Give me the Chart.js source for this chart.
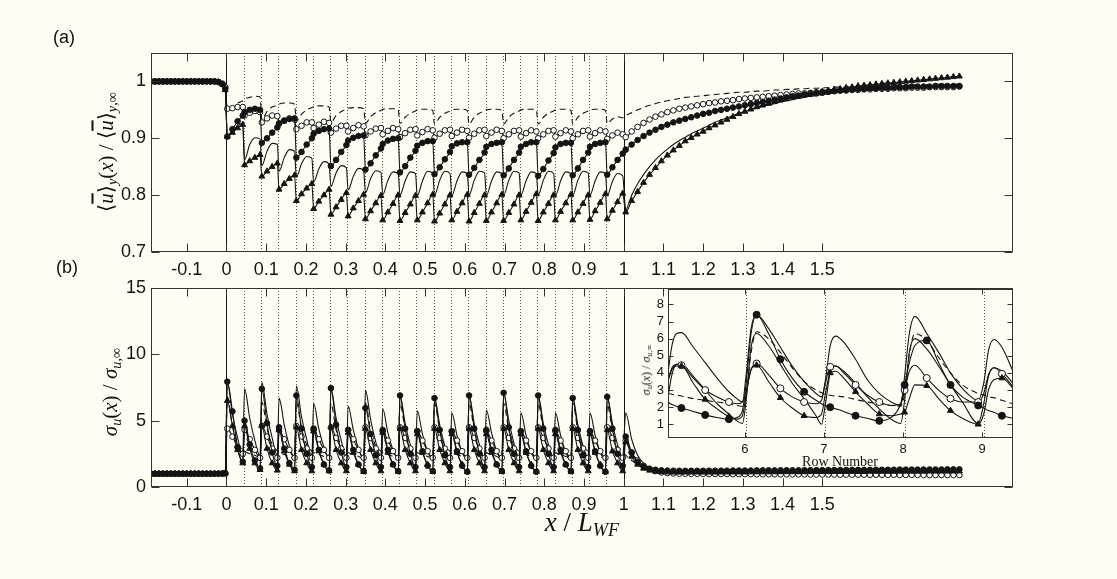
<!DOCTYPE html>
<html>
<head>
<meta charset="utf-8">
<script src="https://cdn.jsdelivr.net/npm/chart.js@4.4.1/dist/chart.umd.min.js"></script>
<style>
  html, body { margin: 0; padding: 0; }
  body { width: 1117px; height: 579px; background: #fffdf3; position: relative; overflow: hidden;
         font-family: "Liberation Sans", Arial, sans-serif; color: #111; }
  canvas { position: absolute; left: 0; top: 0; }
  .panel { position: absolute; font-size: 18px; line-height: 1; }
  .math { position: absolute; font-family: "Liberation Serif", "DejaVu Serif", serif; white-space: nowrap; line-height: 1; }
  .rot { transform: translate(-50%, -50%) rotate(-90deg); }
  .ctr { transform: translate(-50%, -50%); }
  .math sub { font-size: 0.68em; line-height: 0; vertical-align: -0.3em; }
  .ov { text-decoration: overline; }
</style>
</head>
<body>
<canvas id="chartA" width="1117" height="579"></canvas>
<canvas id="chartB" width="1117" height="579"></canvas>
<canvas id="chartInset" width="1117" height="579"></canvas>

<div class="panel" style="left:53px;top:28px">(a)</div>
<div class="panel" style="left:56px;top:258px">(b)</div>
<div class="math rot" style="left:106px;top:152px;font-size:21px">⟨<i class="ov">u</i>⟩<sub><i>y</i></sub>(<i>x</i>) / ⟨<i class="ov">u</i>⟩<sub><i>y</i>,∞</sub></div>
<div class="math rot" style="left:110px;top:392px;font-size:21px"><i>σ</i><sub><i>u</i></sub>(<i>x</i>) / <i>σ</i><sub><i>u</i>,∞</sub></div>
<div class="math ctr" style="left:582px;top:522px;font-size:27px"><i>x</i> / <i>L</i><sub><i>WF</i></sub></div>
<div class="math rot" style="left:646px;top:370px;font-size:12px"><i>σ</i><sub><i>u</i></sub>(<i>x</i>) / <i>σ</i><sub><i>u</i>,∞</sub></div>
<div class="math ctr" style="left:840px;top:462px;font-size:14px">Row Number</div>

<script>
// x positions of the samples (before the farm, inside the farm, in the wake)
const X_GRID = [
  -0.19, -0.18, -0.17, -0.16, -0.15, -0.14, -0.13, -0.12, -0.11, -0.1,
  -0.09, -0.08, -0.07, -0.06, -0.05, -0.04, -0.03, -0.02, -0.01, -0.003,
  0.002, 0.015, 0.028, 0.041, 0.0455, 0.0585, 0.0715, 0.0845,
  0.089, 0.102, 0.115, 0.128, 0.1324, 0.1454, 0.1584, 0.1714,
  0.1759, 0.1889, 0.2019, 0.2149, 0.2194, 0.2324, 0.2454, 0.2584,
  0.2629, 0.2759, 0.2889, 0.3019, 0.3063, 0.3193, 0.3323, 0.3453,
  0.3498, 0.3628, 0.3758, 0.3888, 0.3933, 0.4063, 0.4193, 0.4323,
  0.4368, 0.4498, 0.4628, 0.4758, 0.4803, 0.4933, 0.5063, 0.5193,
  0.5237, 0.5367, 0.5497, 0.5627, 0.5672, 0.5802, 0.5932, 0.6062,
  0.6107, 0.6237, 0.6367, 0.6497, 0.6542, 0.6672, 0.6802, 0.6932,
  0.6977, 0.7107, 0.7237, 0.7367, 0.7411, 0.7541, 0.7671, 0.7801,
  0.7846, 0.7976, 0.8106, 0.8236, 0.8281, 0.8411, 0.8541, 0.8671,
  0.8716, 0.8846, 0.8976, 0.9106, 0.915, 0.928, 0.941, 0.954,
  0.9585, 0.9715, 0.9845, 0.9975,
  1.005, 1.02, 1.035, 1.05, 1.065, 1.08, 1.095, 1.11, 1.125, 1.14,
  1.155, 1.17, 1.185, 1.2, 1.215, 1.23, 1.245, 1.26, 1.275, 1.29,
  1.305, 1.32, 1.335, 1.35, 1.365, 1.38, 1.395, 1.41, 1.425, 1.44,
  1.455, 1.47, 1.485, 1.5, 1.515, 1.53, 1.545, 1.56, 1.575, 1.59,
  1.605, 1.62, 1.635, 1.65, 1.665, 1.68, 1.695, 1.71, 1.725, 1.74,
  1.755, 1.77, 1.785, 1.8, 1.815, 1.83, 1.845
];

// turbine rows inside the farm (dotted) and first/last row (solid)
const ROW_X = [0.0435, 0.087, 0.1304, 0.1739, 0.2174, 0.2609, 0.3043, 0.3478, 0.3913, 0.4348, 0.4783,
  0.5217, 0.5652, 0.6087, 0.6522, 0.6957, 0.7391, 0.7826, 0.8261, 0.8696, 0.913, 0.9565];
const EDGE_X = [0, 1];
const TICKS_X = [-0.1, 0, 0.1, 0.2, 0.3, 0.4, 0.5, 0.6, 0.7, 0.8, 0.9, 1, 1.1, 1.2, 1.3, 1.4, 1.5];
const TICKS_YA = [0.7, 0.8, 0.9, 1];
const TICKS_YB = [0, 5, 10, 15];

// ---- panel (a): mean velocity ----
const TRI_A = [
  1, 1, 1, 1, 1, 1, 1, 1, 1, 1, 1, 1, 1, 1, 1, 1, 1, 0.999, 0.995, 0.985,
  0.903, 0.91, 0.918, 0.924, 0.853, 0.86, 0.866, 0.871,
  0.833, 0.842, 0.85, 0.856, 0.81, 0.82, 0.829, 0.835,
  0.79, 0.802, 0.812, 0.82, 0.776, 0.789, 0.8, 0.81,
  0.766, 0.779, 0.792, 0.804, 0.763, 0.777, 0.79, 0.801,
  0.758, 0.772, 0.786, 0.799, 0.756, 0.77, 0.785, 0.8,
  0.755, 0.769, 0.784, 0.799, 0.756, 0.77, 0.786, 0.801,
  0.754, 0.768, 0.784, 0.8, 0.756, 0.771, 0.786, 0.801,
  0.754, 0.769, 0.785, 0.8, 0.755, 0.77, 0.786, 0.801,
  0.755, 0.769, 0.784, 0.8, 0.756, 0.771, 0.787, 0.802,
  0.755, 0.77, 0.785, 0.8, 0.756, 0.771, 0.786, 0.801,
  0.756, 0.77, 0.785, 0.8, 0.757, 0.772, 0.787, 0.802,
  0.758, 0.773, 0.788, 0.803,
  0.77, 0.79, 0.806, 0.822, 0.836, 0.848, 0.86, 0.87, 0.879, 0.887,
  0.895, 0.901, 0.907, 0.912, 0.918, 0.923, 0.928, 0.933, 0.938, 0.943,
  0.947, 0.951, 0.955, 0.958, 0.961, 0.964, 0.967, 0.969, 0.972, 0.974,
  0.976, 0.978, 0.98, 0.982, 0.984, 0.986, 0.987, 0.989, 0.99, 0.992,
  0.993, 0.994, 0.995, 0.996, 0.997, 0.998, 0.999, 1.0, 1.001, 1.002,
  1.003, 1.004, 1.005, 1.006, 1.007, 1.008, 1.009
];
const FIL_A = [
  1, 1, 1, 1, 1, 1, 1, 1, 1, 1, 1, 1, 1, 1, 1, 1, 1, 0.999, 0.995, 0.987,
  0.903, 0.916, 0.93, 0.94, 0.946, 0.95, 0.952, 0.95,
  0.892, 0.9, 0.91, 0.919, 0.926, 0.931, 0.934, 0.935,
  0.866, 0.876, 0.889, 0.9, 0.908, 0.913, 0.916, 0.917,
  0.851, 0.862, 0.876, 0.888, 0.896, 0.901, 0.904, 0.905,
  0.845, 0.856, 0.87, 0.882, 0.89, 0.896, 0.899, 0.9,
  0.84, 0.851, 0.866, 0.878, 0.887, 0.892, 0.895, 0.895,
  0.837, 0.849, 0.863, 0.876, 0.886, 0.891, 0.893, 0.893,
  0.836, 0.848, 0.862, 0.875, 0.885, 0.89, 0.892, 0.893,
  0.835, 0.847, 0.862, 0.875, 0.885, 0.89, 0.893, 0.893,
  0.834, 0.846, 0.861, 0.874, 0.884, 0.89, 0.892, 0.892,
  0.835, 0.847, 0.862, 0.875, 0.885, 0.89, 0.892, 0.893,
  0.836, 0.849, 0.862, 0.873,
  0.88, 0.889, 0.897, 0.904, 0.91, 0.915, 0.92, 0.924, 0.928, 0.931,
  0.934, 0.937, 0.94, 0.943, 0.945, 0.948, 0.95, 0.952, 0.954, 0.956,
  0.958, 0.96, 0.962, 0.964, 0.966, 0.968, 0.97, 0.972, 0.974, 0.975,
  0.977, 0.978, 0.979, 0.98, 0.982, 0.983, 0.984, 0.985, 0.986, 0.987,
  0.987, 0.988, 0.988, 0.989, 0.989, 0.99, 0.99, 0.99, 0.991, 0.991,
  0.991, 0.991, 0.992, 0.992, 0.992, 0.992, 0.992
];
const OPN_A = [
  1, 1, 1, 1, 1, 1, 1, 1, 1, 1, 1, 1, 1, 1, 1, 1, 1, 0.999, 0.996, 0.99,
  0.952, 0.953, 0.955, 0.955, 0.94, 0.945, 0.948, 0.946,
  0.928, 0.935, 0.94, 0.939, 0.926, 0.931, 0.935, 0.933,
  0.916, 0.922, 0.928, 0.928, 0.918, 0.924, 0.929, 0.927,
  0.91, 0.917, 0.922, 0.922, 0.912, 0.918, 0.923, 0.921,
  0.905, 0.912, 0.917, 0.918, 0.907, 0.913, 0.918, 0.916,
  0.902, 0.909, 0.915, 0.916, 0.905, 0.911, 0.916, 0.914,
  0.901, 0.908, 0.914, 0.915, 0.904, 0.91, 0.915, 0.913,
  0.901, 0.908, 0.914, 0.915, 0.904, 0.91, 0.915, 0.913,
  0.9, 0.907, 0.913, 0.914, 0.903, 0.909, 0.914, 0.912,
  0.9, 0.907, 0.913, 0.914, 0.903, 0.909, 0.914, 0.912,
  0.9, 0.907, 0.913, 0.914, 0.903, 0.909, 0.914, 0.912,
  0.899, 0.905, 0.91, 0.907,
  0.902, 0.912, 0.92, 0.927, 0.933, 0.938, 0.942, 0.946, 0.949, 0.952,
  0.954, 0.956, 0.958, 0.96, 0.962, 0.963, 0.965, 0.966, 0.967, 0.969,
  0.97, 0.971, 0.972, 0.973, 0.974, 0.975, 0.976, 0.977, 0.978, 0.979,
  0.979, 0.98, 0.981, 0.982, 0.982, 0.983, 0.984, 0.984, 0.985, 0.985,
  0.986, 0.986, 0.987, 0.987, 0.987, 0.988, 0.988, 0.988, 0.989, 0.989,
  0.989, 0.99, 0.99, 0.99, 0.99, 0.99, 0.991
];
const THIN_A = [
  1, 1, 1, 1, 1, 1, 1, 1, 1, 1, 1, 1, 1, 1, 1, 1, 1, 0.999, 0.995, 0.987,
  0.903, 0.913, 0.922, 0.926, 0.862, 0.889, 0.901, 0.899,
  0.852, 0.877, 0.891, 0.889, 0.842, 0.866, 0.88, 0.877,
  0.832, 0.855, 0.868, 0.865, 0.823, 0.846, 0.859, 0.855,
  0.815, 0.839, 0.852, 0.848, 0.809, 0.833, 0.847, 0.843,
  0.804, 0.829, 0.843, 0.84, 0.801, 0.826, 0.841, 0.838,
  0.8, 0.825, 0.841, 0.838, 0.799, 0.825, 0.842, 0.839,
  0.8, 0.826, 0.842, 0.838, 0.799, 0.825, 0.841, 0.838,
  0.8, 0.826, 0.842, 0.839, 0.799, 0.825, 0.841, 0.838,
  0.8, 0.826, 0.842, 0.839, 0.8, 0.825, 0.841, 0.838,
  0.8, 0.826, 0.842, 0.838, 0.799, 0.825, 0.841, 0.838,
  0.8, 0.826, 0.842, 0.839, 0.8, 0.825, 0.841, 0.838,
  0.799, 0.824, 0.838, 0.834,
  0.775, 0.8, 0.82, 0.836, 0.85, 0.862, 0.872, 0.881, 0.889, 0.896,
  0.902, 0.908, 0.913, 0.918, 0.923, 0.928, 0.932, 0.936, 0.94, 0.944,
  0.947, 0.95, 0.953, 0.956, 0.959, 0.961, 0.964, 0.966, 0.968, 0.97,
  0.972, 0.974, 0.975, 0.977, 0.978, 0.98, 0.981, 0.982, 0.983, 0.984,
  0.985, 0.986, 0.987, 0.988, 0.988, 0.989, 0.99, 0.99, 0.991, 0.991,
  0.992, 0.992, 0.993, 0.993, 0.993, 0.994, 0.994
];
const DASH_A = [
  null, null, null, null, null, null, null, null, null, null,
  null, null, null, null, null, null, null, null, null, null,
  null, null, 0.962, 0.966, 0.969, 0.972, 0.974, 0.973,
  0.934, 0.947, 0.955, 0.958, 0.96, 0.962, 0.962, 0.96,
  0.93, 0.942, 0.95, 0.954, 0.956, 0.957, 0.957, 0.955,
  0.928, 0.94, 0.947, 0.951, 0.953, 0.954, 0.954, 0.952,
  0.926, 0.938, 0.945, 0.949, 0.951, 0.952, 0.952, 0.95,
  0.926, 0.937, 0.944, 0.948, 0.95, 0.951, 0.951, 0.949,
  0.925, 0.937, 0.944, 0.948, 0.95, 0.951, 0.951, 0.949,
  0.925, 0.937, 0.944, 0.948, 0.95, 0.951, 0.951, 0.949,
  0.925, 0.937, 0.944, 0.948, 0.95, 0.951, 0.951, 0.949,
  0.925, 0.937, 0.944, 0.948, 0.95, 0.951, 0.951, 0.949,
  0.925, 0.937, 0.944, 0.948, 0.95, 0.951, 0.951, 0.949,
  0.926, 0.934, 0.938, 0.936,
  0.94, 0.945, 0.95, 0.954, 0.958, 0.961, 0.964, 0.966, 0.968, 0.97,
  0.972, 0.973, 0.974, 0.975, 0.976, 0.977, 0.978, 0.979, 0.98, 0.981,
  0.981, 0.982, 0.983, 0.983, 0.984, 0.985, 0.985, 0.986, 0.986, 0.987,
  0.987, 0.988, 0.988, 0.989, 0.989, 0.99, 0.99, 0.99, 0.991, 0.991,
  0.991, 0.992, 0.992, 0.992, 0.993, 0.993, 0.993, 0.993, 0.994, 0.994,
  0.994, 0.994, 0.995, 0.995, 0.995, 0.995, 0.995
];

// ---- panel (b): streamwise turbulence intensity ----
const THIN_B = [
  1, 1, 1, 1, 1, 1, 1, 1, 1, 1, 1, 1, 1, 1, 1, 1, 1, 1.01, 1.02, 1.04,
  7.9, 5.5, 3.7, 2.4, 7.4, 5.2, 3.5, 2.3,
  7.9, 5.5, 3.7, 2.4, 6.7, 4.7, 3.1, 2.2,
  7.6, 5.3, 3.6, 2.3, 6.3, 4.4, 3.0, 2.2,
  7.4, 5.2, 3.5, 2.3, 6.1, 4.3, 2.9, 2.1,
  7.3, 5.1, 3.4, 2.3, 5.9, 4.1, 2.8, 2.1,
  6.9, 4.8, 3.2, 2.2, 5.75, 4.0, 2.7, 2.1,
  6.7, 4.7, 3.1, 2.2, 5.6, 3.9, 2.6, 2.1,
  6.9, 4.8, 3.2, 2.2, 5.8, 4.1, 2.7, 2.1,
  7.1, 5.0, 3.3, 2.2, 5.6, 3.9, 2.6, 2.1,
  6.9, 4.8, 3.2, 2.2, 5.6, 3.9, 2.6, 2.1,
  6.7, 4.7, 3.1, 2.2, 5.6, 3.9, 2.6, 2.1,
  6.8, 4.8, 3.2, 2.2,
  5.6, 3.6, 2.4, 1.8, 1.45, 1.28, 1.18, 1.13, 1.1, 1.09,
  1.08, 1.08, 1.08, 1.08, 1.08, 1.09, 1.09, 1.09, 1.09, 1.1,
  1.1, 1.1, 1.1, 1.11, 1.11, 1.11, 1.12, 1.12, 1.12, 1.12,
  1.13, 1.13, 1.13, 1.13, 1.14, 1.14, 1.14, 1.14, 1.15, 1.15,
  1.15, 1.15, 1.16, 1.16, 1.16, 1.16, 1.17, 1.17, 1.17, 1.17,
  1.18, 1.18, 1.18, 1.18, 1.19, 1.19, 1.19
];
const FIL_B = [
  1, 1, 1, 1, 1, 1, 1, 1, 1, 1, 1, 1, 1, 1, 1, 1, 1, 1.01, 1.02, 1.05,
  7.94, 5.7, 3.0, 1.9, 5.0, 3.2, 2.0, 1.4,
  7.4, 4.8, 2.6, 1.6, 4.5, 2.9, 1.8, 1.3,
  6.9, 4.4, 2.5, 1.5, 4.4, 2.8, 1.7, 1.25,
  7.45, 4.7, 2.6, 1.5, 4.3, 2.8, 1.7, 1.2,
  5.95, 4.0, 2.4, 1.5, 4.3, 2.8, 1.7, 1.2,
  6.9, 4.4, 2.5, 1.5, 4.2, 2.7, 1.6, 1.2,
  6.7, 4.3, 2.4, 1.5, 4.2, 2.7, 1.6, 1.15,
  6.9, 4.4, 2.5, 1.5, 4.3, 2.8, 1.7, 1.2,
  7.1, 4.5, 2.5, 1.5, 4.2, 2.7, 1.6, 1.15,
  6.9, 4.4, 2.5, 1.5, 4.3, 2.8, 1.7, 1.2,
  6.7, 4.3, 2.4, 1.5, 4.2, 2.7, 1.6, 1.15,
  6.8, 4.4, 2.5, 1.6,
  3.8, 2.6, 1.9, 1.55, 1.38, 1.3, 1.26, 1.24, 1.23, 1.22,
  1.22, 1.22, 1.22, 1.22, 1.23, 1.23, 1.23, 1.23, 1.24, 1.24,
  1.24, 1.24, 1.25, 1.25, 1.25, 1.25, 1.26, 1.26, 1.26, 1.26,
  1.27, 1.27, 1.27, 1.27, 1.28, 1.28, 1.28, 1.28, 1.29, 1.29,
  1.29, 1.29, 1.3, 1.3, 1.3, 1.3, 1.31, 1.31, 1.31, 1.31,
  1.32, 1.32, 1.32, 1.32, 1.33, 1.33, 1.33
];
const TRI_B = [
  1, 1, 1, 1, 1, 1, 1, 1, 1, 1, 1, 1, 1, 1, 1, 1, 1, 1, 1.01, 1.03,
  6.5, 4.6, 2.8, 1.8, 4.6, 2.9, 1.8, 1.3,
  4.6, 2.9, 1.8, 1.25, 4.3, 2.7, 1.7, 1.2,
  4.5, 2.8, 1.8, 1.2, 4.2, 2.7, 1.7, 1.2,
  4.5, 2.8, 1.8, 1.2, 4.1, 2.6, 1.7, 1.15,
  4.4, 2.8, 1.8, 1.2, 4.1, 2.6, 1.7, 1.15,
  4.4, 2.8, 1.8, 1.2, 4.0, 2.6, 1.7, 1.15,
  4.4, 2.8, 1.8, 1.2, 4.0, 2.6, 1.7, 1.15,
  4.4, 2.8, 1.8, 1.2, 4.0, 2.6, 1.7, 1.15,
  4.4, 2.8, 1.8, 1.2, 4.0, 2.6, 1.7, 1.15,
  4.4, 2.8, 1.8, 1.2, 4.0, 2.6, 1.7, 1.15,
  4.4, 2.8, 1.8, 1.2, 4.0, 2.6, 1.7, 1.15,
  4.3, 2.7, 1.8, 1.2,
  3.4, 2.3, 1.7, 1.4, 1.25, 1.17, 1.13, 1.11, 1.1, 1.1,
  1.1, 1.1, 1.1, 1.1, 1.1, 1.1, 1.11, 1.11, 1.11, 1.11,
  1.11, 1.12, 1.12, 1.12, 1.12, 1.12, 1.13, 1.13, 1.13, 1.13,
  1.13, 1.14, 1.14, 1.14, 1.14, 1.14, 1.15, 1.15, 1.15, 1.15,
  1.15, 1.16, 1.16, 1.16, 1.16, 1.16, 1.17, 1.17, 1.17, 1.17,
  1.17, 1.18, 1.18, 1.18, 1.18, 1.18, 1.19
];
const OPN_B = [
  1, 1, 1, 1, 1, 1, 1, 1, 1, 1, 1, 1, 1, 1, 1, 1, 1, 1, 1, 1.02,
  4.4, 3.8, 3.0, 2.5, 4.3, 3.6, 2.8, 2.2,
  4.6, 3.8, 2.9, 2.2, 4.3, 3.6, 2.8, 2.2,
  4.6, 3.8, 2.9, 2.2, 4.3, 3.6, 2.8, 2.2,
  4.5, 3.7, 2.9, 2.2, 4.3, 3.6, 2.8, 2.2,
  4.5, 3.7, 2.9, 2.2, 4.2, 3.5, 2.7, 2.2,
  4.5, 3.7, 2.9, 2.2, 4.2, 3.5, 2.7, 2.2,
  4.5, 3.7, 2.9, 2.2, 4.2, 3.5, 2.7, 2.2,
  4.5, 3.7, 2.9, 2.2, 4.2, 3.5, 2.7, 2.2,
  4.5, 3.7, 2.9, 2.2, 4.2, 3.5, 2.7, 2.2,
  4.5, 3.7, 2.9, 2.2, 4.2, 3.5, 2.7, 2.2,
  4.5, 3.7, 2.9, 2.2, 4.2, 3.5, 2.7, 2.2,
  4.5, 3.7, 2.8, 2.2,
  3.5, 2.6, 2.0, 1.6, 1.35, 1.2, 1.1, 1.05, 1.02, 1.0,
  1.0, 0.99, 0.99, 0.99, 0.98, 0.98, 0.98, 0.98, 0.97, 0.97,
  0.97, 0.97, 0.96, 0.96, 0.96, 0.96, 0.95, 0.95, 0.95, 0.95,
  0.95, 0.94, 0.94, 0.94, 0.94, 0.94, 0.93, 0.93, 0.93, 0.93,
  0.93, 0.92, 0.92, 0.92, 0.92, 0.92, 0.91, 0.91, 0.91, 0.91,
  0.91, 0.9, 0.9, 0.9, 0.9, 0.9, 0.9
];
const DASH_B = [
  1, 1, 1, 1, 1, 1, 1, 1, 1, 1, 1, 1, 1, 1, 1, 1, 1, 1, 1, 1,
  6.8, 4.6, 3.3, 2.8, 2.7, 2.5, 2.4, 2.2,
  6.4, 4.4, 3.2, 2.7, 2.6, 2.45, 2.3, 2.15,
  6.4, 4.4, 3.2, 2.7, 2.6, 2.45, 2.3, 2.15,
  6.3, 4.3, 3.1, 2.7, 2.6, 2.45, 2.3, 2.15,
  6.3, 4.3, 3.1, 2.7, 2.6, 2.45, 2.3, 2.15,
  6.3, 4.3, 3.1, 2.7, 2.6, 2.45, 2.3, 2.15,
  6.3, 4.3, 3.1, 2.7, 2.6, 2.45, 2.3, 2.15,
  6.3, 4.3, 3.1, 2.7, 2.6, 2.45, 2.3, 2.15,
  6.3, 4.3, 3.1, 2.7, 2.6, 2.45, 2.3, 2.15,
  6.3, 4.3, 3.1, 2.7, 2.6, 2.45, 2.3, 2.15,
  6.3, 4.3, 3.1, 2.7, 2.6, 2.45, 2.3, 2.15,
  6.2, 4.3, 3.1, 2.7,
  2.4, 2.0, 1.7, 1.45, 1.3, 1.2, 1.13, 1.1, 1.08, 1.07,
  1.06, 1.06, 1.06, 1.06, 1.06, 1.06, 1.07, 1.07, 1.07, 1.07,
  1.07, 1.08, 1.08, 1.08, 1.08, 1.08, 1.09, 1.09, 1.09, 1.09,
  1.09, 1.1, 1.1, 1.1, 1.1, 1.1, 1.1, 1.11, 1.11, 1.11,
  1.11, 1.11, 1.11, 1.12, 1.12, 1.12, 1.12, 1.12, 1.12, 1.13,
  1.13, 1.13, 1.13, 1.13, 1.13, 1.14, 1.14
];

// ---- inset: rows 5 to 9 ----
const IN_X = [
  5.03, 5.08, 5.14, 5.2, 5.35, 5.5, 5.65, 5.8, 5.9, 5.97,
  6.02, 6.08, 6.15, 6.3, 6.45, 6.6, 6.75, 6.9, 6.97, 7.02,
  7.08, 7.15, 7.25, 7.4, 7.55, 7.7, 7.85, 7.97, 8.02, 8.08,
  8.15, 8.3, 8.45, 8.6, 8.75, 8.95, 9.02, 9.08, 9.15, 9.25,
  9.39
];
const IN_MARK_X = [5.2, 5.5, 5.8, 6.15, 6.45, 6.75, 7.08, 7.4, 7.7, 8.02, 8.3, 8.6, 8.95, 9.25];
const IN_ROWS = [6.02, 7.02, 8.02, 9.02];
const IN_TICKS_X = [6, 7, 8, 9];
const IN_TICKS_Y = [1, 2, 3, 4, 5, 6, 7, 8];
const IN_TOP = [
  4.0, 5.6, 6.3, 6.35, 5.5, 4.6, 3.7, 2.9, 2.5, 2.3,
  4.0, 6.6, 7.4, 6.6, 5.5, 4.4, 3.5, 2.8, 2.6, 3.6,
  5.6, 6.15, 5.8, 4.8, 3.6, 2.8, 2.3, 2.1, 3.8, 6.3,
  7.3, 6.3, 5.2, 4.0, 3.1, 2.4, 3.4, 5.3, 5.95, 5.5,
  4.1
];
const IN_DASH = [
  2.8, 2.75, 2.7, 2.65, 2.5, 2.4, 2.3, 2.2, 2.1, 2.05,
  2.8, 5.2, 6.4, 6.0, 5.2, 4.3, 3.5, 3.0, 2.85, 2.75,
  2.7, 2.65, 2.6, 2.45, 2.3, 2.2, 2.1, 2.05, 2.8, 5.1,
  6.3, 5.9, 4.9, 4.0, 3.3, 2.8, 2.7, 2.6, 2.55, 2.4,
  2.2
];
const IN_S2 = [
  2.6, 3.9, 4.5, 4.5, 3.8, 3.0, 2.2, 1.6, 1.2, 1.05,
  2.5, 5.5, 6.3, 5.6, 4.5, 3.4, 2.5, 1.5, 1.0, 2.2,
  4.0, 4.4, 4.1, 3.4, 2.6, 1.9, 1.3, 1.05, 2.4, 5.2,
  6.0, 5.4, 4.4, 3.3, 2.3, 1.05, 2.2, 3.8, 4.3, 4.1,
  3.4
];
const IN_FIL = [
  2.3, 2.15, 2.05, 1.95, 1.75, 1.55, 1.4, 1.3, 1.4, 1.8,
  3.5, 6.3, 7.4, 6.3, 4.8, 3.7, 2.9, 2.4, 2.2, 2.1,
  2.0, 1.9, 1.75, 1.5, 1.35, 1.2, 1.4, 2.2, 3.3, 4.6,
  5.6, 5.9, 4.6, 3.3, 2.6, 2.1, 1.95, 1.8, 1.7, 1.5,
  1.35
];
const IN_OPN = [
  3.6, 4.3, 4.5, 4.45, 3.7, 3.0, 2.6, 2.3, 2.2, 2.3,
  3.0, 4.2, 4.55, 3.9, 3.1, 2.6, 2.3, 2.2, 2.4, 3.4,
  4.35, 4.4, 4.0, 3.3, 2.7, 2.3, 2.1, 2.2, 3.0, 4.1,
  4.45, 3.7, 3.0, 2.5, 2.3, 2.3, 2.8, 3.9, 4.3, 3.95,
  3.2
];
const IN_TRI = [
  3.5, 4.2, 4.4, 4.4, 3.4, 2.45, 1.9, 1.45, 1.3, 1.5,
  2.8, 4.2, 4.45, 3.5, 2.55, 1.95, 1.5, 1.4, 1.6, 2.8,
  4.0, 4.1, 3.7, 2.9, 2.2, 1.6, 1.5, 1.6, 1.7, 2.5,
  3.3, 3.25, 2.5, 1.8, 1.35, 1.0, 1.6, 3.0, 3.6, 3.7,
  3.1
];

const INK = '#141414';
const PAPER = '#fffdf3';
const SANS = '"Liberation Sans", Arial, sans-serif';

function toXY(xs, ys) {
  return xs.map((x, i) => ({ x: x, y: ys[i] === undefined ? null : ys[i] }));
}

// frame, inward ticks and the row lines, all placed through the chart scales
const framePlugin = {
  id: 'frame',
  beforeDraw(chart, args, o) {
    if (!o.fill) return;
    const a = chart.chartArea;
    chart.ctx.save();
    chart.ctx.fillStyle = o.fill;
    chart.ctx.fillRect(a.left, a.top, a.width, a.height);
    chart.ctx.restore();
  },
  beforeDatasetsDraw(chart, args, o) {
    const ctx = chart.ctx, a = chart.chartArea, x = chart.scales.x;
    ctx.save();
    ctx.lineWidth = 1;
    ctx.strokeStyle = '#555a60';
    ctx.setLineDash([1, 2]);
    (o.dotted || []).forEach(v => {
      const px = Math.round(x.getPixelForValue(v)) + 0.5;
      ctx.beginPath(); ctx.moveTo(px, a.top); ctx.lineTo(px, a.bottom); ctx.stroke();
    });
    ctx.setLineDash([]);
    ctx.strokeStyle = INK;
    (o.solid || []).forEach(v => {
      const px = Math.round(x.getPixelForValue(v)) + 0.5;
      ctx.beginPath(); ctx.moveTo(px, a.top); ctx.lineTo(px, a.bottom); ctx.stroke();
    });
    ctx.restore();
  },
  afterDraw(chart, args, o) {
    const ctx = chart.ctx, a = chart.chartArea, x = chart.scales.x, y = chart.scales.y;
    const L = o.tick || 8;
    ctx.save();
    ctx.strokeStyle = '#3a3030';
    ctx.lineWidth = 1;
    const l = Math.round(a.left) + 0.5, r = Math.round(a.right) - 0.5;
    const t = Math.round(a.top) + 0.5, b = Math.round(a.bottom) - 0.5;
    ctx.strokeRect(l, t, r - l, b - t);
    ctx.beginPath();
    x.ticks.forEach(tk => {
      const px = Math.round(x.getPixelForValue(tk.value)) + 0.5;
      ctx.moveTo(px, b); ctx.lineTo(px, b - L);
      ctx.moveTo(px, t); ctx.lineTo(px, t + L);
    });
    y.ticks.forEach(tk => {
      const py = Math.round(y.getPixelForValue(tk.value)) + 0.5;
      ctx.moveTo(l, py); ctx.lineTo(l + L, py);
      ctx.moveTo(r, py); ctx.lineTo(r - L, py);
    });
    ctx.stroke();
    ctx.restore();
  }
};

function lineSet(xs, ys, order, extra) {
  return Object.assign({
    data: toXY(xs, ys), borderColor: INK, borderWidth: 1.1, pointRadius: 0,
    cubicInterpolationMode: 'monotone', spanGaps: false, order: order
  }, extra || {});
}
function markerSet(xs, ys, order, style, filled, radius) {
  return lineSet(xs, ys, order, {
    pointStyle: style, pointRadius: radius, pointBorderWidth: 1,
    pointBorderColor: INK, pointBackgroundColor: filled ? INK : '#ffffff'
  });
}

function axisX(min, max, ticks, size, height, pad) {
  return {
    type: 'linear', min: min, max: max,
    grid: { display: false, drawTicks: false }, border: { display: false },
    afterBuildTicks: s => { s.ticks = ticks.map(v => ({ value: v })); },
    afterFit: s => { s.height = height; },
    ticks: { padding: pad, color: INK, autoSkip: false, maxRotation: 0,
             font: { size: size, family: SANS }, callback: v => String(v) }
  };
}
function axisY(min, max, ticks, size, width, pad) {
  return {
    type: 'linear', min: min, max: max,
    grid: { display: false, drawTicks: false }, border: { display: false },
    afterBuildTicks: s => { s.ticks = ticks.map(v => ({ value: v })); },
    afterFit: s => { s.width = width; },
    ticks: { padding: pad, color: INK, font: { size: size, family: SANS }, callback: v => String(v) }
  };
}

function makeChart(id, datasets, scales, padding, frameOpts) {
  return new Chart(document.getElementById(id), {
    type: 'line',
    data: { datasets: datasets },
    options: {
      responsive: false, animation: false, devicePixelRatio: 1,
      layout: { padding: padding },
      scales: scales,
      plugins: { legend: { display: false }, tooltip: { enabled: false }, frame: frameOpts }
    },
    plugins: [framePlugin]
  });
}

// panel (a)
makeChart('chartA', [
  lineSet(X_GRID, DASH_A, 6, { borderDash: [6, 4] }),
  lineSet(X_GRID, THIN_A, 5),
  markerSet(X_GRID, OPN_A, 4, 'circle', false, 2.8),
  markerSet(X_GRID, FIL_A, 3, 'circle', true, 2.8),
  markerSet(X_GRID, TRI_A, 2, 'triangle', true, 3.4)
], {
  x: axisX(-0.19, 1.98, TICKS_X, 18, 30, 7),
  y: axisY(0.7, 1.05, TICKS_YA, 18, 60, 5)
}, { left: 91, right: 104, top: 53, bottom: 297 }, { dotted: ROW_X, solid: EDGE_X, tick: 8 });

// panel (b)
makeChart('chartB', [
  lineSet(X_GRID, DASH_B, 6, { borderDash: [6, 4] }),
  lineSet(X_GRID, THIN_B, 5),
  markerSet(X_GRID, OPN_B, 4, 'circle', false, 2.8),
  markerSet(X_GRID, TRI_B, 3, 'triangle', true, 3.4),
  markerSet(X_GRID, FIL_B, 2, 'circle', true, 2.8)
], {
  x: axisX(-0.19, 1.98, TICKS_X, 18, 30, 7),
  y: axisY(0, 15, TICKS_YB, 18, 60, 5)
}, { left: 91, right: 104, top: 288, bottom: 62 }, { dotted: ROW_X, solid: EDGE_X, tick: 8 });

// inset
const insetMarks = ctx => (ctx.raw && IN_MARK_X.indexOf(ctx.raw.x) >= 0);
function insetMarker(ys, order, style, filled) {
  return lineSet(IN_X, ys, order, {
    pointStyle: style, pointBorderWidth: 1, pointBorderColor: INK,
    pointBackgroundColor: filled ? INK : '#ffffff',
    pointRadius: c => insetMarks(c) ? 3.5 : 0
  });
}
makeChart('chartInset', [
  lineSet(IN_X, IN_DASH, 7, { borderDash: [6, 4] }),
  lineSet(IN_X, IN_TOP, 6),
  lineSet(IN_X, IN_S2, 5),
  insetMarker(IN_OPN, 4, 'circle', false),
  insetMarker(IN_TRI, 3, 'triangle', true),
  insetMarker(IN_FIL, 2, 'circle', true)
], {
  x: axisX(5.03, 9.39, IN_TICKS_X, 13, 18, 4),
  y: axisY(0.2, 8.9, IN_TICKS_Y, 13, 20, 4)
}, { left: 648, right: 104, top: 289, bottom: 123 }, { dotted: IN_ROWS, fill: PAPER, tick: 5 });
</script>
</body>
</html>
